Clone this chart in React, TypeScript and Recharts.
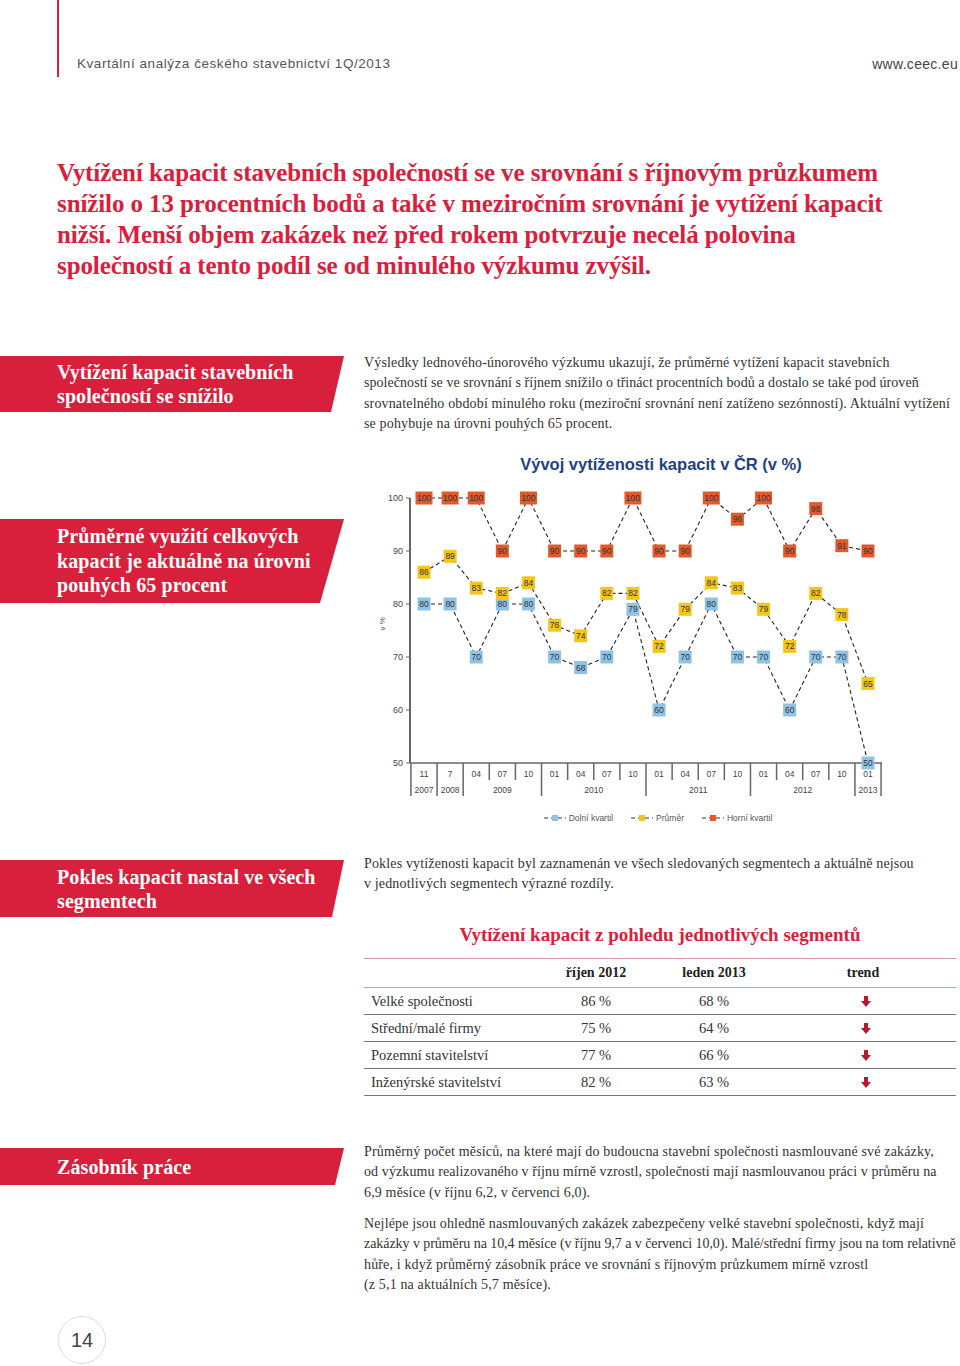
import React from "react";
import { LineChart, Line, XAxis, YAxis, Legend } from "recharts";

const months = ["11", "7", "04", "07", "10", "01", "04", "07", "10", "01", "04", "07", "10", "01", "04", "07", "10", "01"];
const years = ["2007", "2008", "2009", "2009", "2009", "2010", "2010", "2010", "2010", "2011", "2011", "2011", "2011", "2012", "2012", "2012", "2012", "2013"];

const lowerQuartile = [80, 80, 70, 80, 80, 70, 68, 70, 79, 60, 70, 80, 70, 70, 60, 70, 70, 50];
const average = [86, 89, 83, 82, 84, 76, 74, 82, 82, 72, 79, 84, 83, 79, 72, 82, 78, 65];
const upperQuartile = [100, 100, 100, 90, 100, 90, 90, 90, 100, 90, 90, 100, 96, 100, 90, 98, 91, 90];

const yTicks = [50, 60, 70, 80, 90, 100];

const series = [
  { key: "low", name: "Dolní kvartil", color: "#8ec3e6" },
  { key: "avg", name: "Průměr", color: "#f5c51c" },
  { key: "high", name: "Horní kvartil", color: "#e35a2a" },
];

const data = months.map((m, i) => ({
  id: String(i),
  low: lowerQuartile[i],
  avg: average[i],
  high: upperQuartile[i],
}));

const segmentNames = ["Velké společnosti", "Střední/malé firmy", "Pozemní stavitelství", "Inženýrské stavitelství"];
const october2012 = [86, 75, 77, 82];
const january2013 = [68, 64, 66, 63];

const RED = "#d8203d";
const SERIF = "'Liberation Serif', 'DejaVu Serif', serif";
const SANS = "'Liberation Sans', Arial, sans-serif";

// chart geometry
const CW = 560;
const CH = 410;
const M = { top: 58, right: 18, bottom: 12, left: 30 };
const YW = 40;
const PAD = 14;
const STEP = (CW - M.left - M.right - YW - 2 * PAD) / (months.length - 1);

const MonthTick = (props: any) => {
  const { x, y, payload } = props;
  const i = Number(payload.value);
  const last = i === months.length - 1;
  const newYear = last || years[i + 1] !== years[i];
  const firstOfYear = i === 0 || years[i - 1] !== years[i];
  const n = years.filter((yy) => yy === years[i]).length;
  return (
    <g>
      <text x={x} y={y + 14} textAnchor="middle" fontSize={8.5} fill="#444" fontFamily={SANS}>
        {months[i]}
      </text>
      {firstOfYear && (
        <text x={x + ((n - 1) * STEP) / 2} y={y + 30} textAnchor="middle" fontSize={8.5} fill="#444" fontFamily={SANS}>
          {years[i]}
        </text>
      )}
      {i === 0 && <line x1={x - STEP / 2} x2={x - STEP / 2} y1={y} y2={y + 33} stroke="#666" strokeWidth={1.5} />}
      <line x1={x + STEP / 2} x2={x + STEP / 2} y1={y} y2={y + (newYear ? 33 : 17)} stroke="#666" strokeWidth={1.5} />
    </g>
  );
};

const makeBox = (key: string, color: string) => (props: any) => {
  const { cx, cy, payload, index } = props;
  if (cx == null || cy == null) return <g key={`${key}-${index}`} />;
  const v = String(payload[key]);
  const w = v.length > 2 ? 17 : 13;
  return (
    <g key={`${key}-${index}`}>
      <rect x={cx - w / 2} y={cy - 6.5} width={w} height={13} fill={color} />
      <text x={cx} y={cy + 3} textAnchor="middle" fontSize={8.5} fill="#333" fontFamily={SANS}>
        {v}
      </text>
    </g>
  );
};

const LegendContent = () => (
  <div style={{ display: "flex", justifyContent: "center", gap: 18, fontFamily: SANS, fontSize: 8.5, color: "#555", paddingLeft: 64, paddingTop: 10 }}>
    {series.map((s) => (
      <div key={s.key} style={{ display: "flex", alignItems: "center", gap: 3 }}>
        <svg width={22} height={8}>
          <line x1={0} x2={22} y1={4} y2={4} stroke="#333" strokeWidth={1} strokeDasharray="4 3" />
          <rect x={8} y={1} width={6} height={6} fill={s.color} />
        </svg>
        <span>{s.name}</span>
      </div>
    ))}
  </div>
);

// a line is either a string or [string, letterSpacing]
const Lines = ({ lines, top, left, lh, style }: any) => (
  <div style={{ position: "absolute", top, left, lineHeight: `${lh}px`, whiteSpace: "nowrap", ...style }}>
    {lines.map((l: any, i: number) =>
      Array.isArray(l) ? (
        <div key={i} style={{ letterSpacing: l[1] }}>
          {l[0]}
        </div>
      ) : (
        <div key={i}>{l}</div>
      )
    )}
  </div>
);

const RedBox = ({ top, height, cut, lines, lh }: any) => (
  <div
    style={{
      position: "absolute",
      left: 0,
      top,
      width: 344,
      height,
      background: RED,
      clipPath: `polygon(0 0, 100% 0, calc(100% - ${cut}px) 100%, 0 100%)`,
    }}
  >
    <Lines
      lines={lines}
      top={(height - lines.length * lh) / 2}
      left={57}
      lh={lh}
      style={{ color: "#fff", fontFamily: SERIF, fontWeight: 700, fontSize: 20, letterSpacing: 0.1 }}
    />
  </div>
);

const Arrow = () => (
  <svg width={10} height={11} viewBox="0 0 10 11">
    <polygon points="3,0 7,0 7,5 10,5 5,11 0,5 3,5" fill="#b5192f" />
  </svg>
);

const bodyStyle = { fontFamily: SERIF, fontSize: 14, color: "#333", letterSpacing: 0.15 };

export default function App() {
  return (
    <div style={{ position: "absolute", left: 0, top: 0, width: 960, height: 1366, background: "#fff", overflow: "hidden" }}>
      <div style={{ position: "absolute", left: 57, top: 0, width: 1.5, height: 77, background: RED }} />
      <div style={{ position: "absolute", left: 77, top: 56, fontFamily: SANS, fontSize: 13.5, color: "#555", letterSpacing: 0.55 }}>
        Kvartální analýza českého stavebnictví 1Q/2013
      </div>
      <div style={{ position: "absolute", right: 2, top: 56, fontFamily: SANS, fontSize: 14, color: "#444", letterSpacing: 0.3 }}>www.ceec.eu</div>

      <Lines
        lines={[
          "Vytížení kapacit stavebních společností se ve srovnání s říjnovým průzkumem",
          "snížilo o 13 procentních bodů a také v meziročním srovnání je vytížení kapacit",
          "nižší. Menší objem zakázek než před rokem potvrzuje necelá polovina",
          "společností a tento podíl se od minulého výzkumu zvýšil.",
        ]}
        top={157}
        left={57}
        lh={31}
        style={{ fontFamily: SERIF, fontWeight: 700, fontSize: 25, color: RED, letterSpacing: -0.1 }}
      />

      <RedBox top={356} height={56} cut={13} lh={24} lines={["Vytížení kapacit stavebních", "společností se snížilo"]} />
      <Lines
        lines={[
          "Výsledky lednového-únorového výzkumu ukazují, že průměrné vytížení kapacit stavebních",
          ["společností se ve srovnání s říjnem snížilo o třináct procentních bodů a dostalo se také pod úroveň", 0.05],
          "srovnatelného období minulého roku (meziroční srovnání není zatíženo sezónností). Aktuální vytížení",
          "se pohybuje na úrovni pouhých 65 procent.",
        ]}
        top={353}
        left={364}
        lh={20.4}
        style={bodyStyle}
      />

      <div style={{ position: "absolute", left: 420, width: 482, top: 455, textAlign: "center", fontFamily: SANS, fontWeight: 700, fontSize: 16.5, color: "#1f3f86" }}>
        Vývoj vytíženosti kapacit v ČR (v %)
      </div>

      <RedBox
        top={519}
        height={84}
        cut={24}
        lh={24.5}
        lines={["Průměrné využití celkových", "kapacit je aktuálně na úrovni", "pouhých 65 procent"]}
      />

      <div style={{ position: "absolute", left: 340, top: 440 }}>
        <LineChart width={CW} height={CH} data={data} margin={M}>
          <XAxis
            dataKey="id"
            padding={{ left: PAD, right: PAD }}
            axisLine={{ stroke: "#666", strokeWidth: 1.5 }}
            tickLine={false}
            tickSize={0}
            tickMargin={0}
            interval={0}
            height={40}
            tick={<MonthTick />}
          />
          <YAxis
            domain={[50, 100]}
            ticks={yTicks}
            width={YW}
            axisLine={{ stroke: "#666", strokeWidth: 2 }}
            tickLine={{ stroke: "#666" }}
            tickSize={4}
            tickMargin={3}
            tick={{ fontSize: 9, fill: "#444", fontFamily: SANS }}
            label={{ value: "v %", angle: -90, position: "insideLeft", offset: 12, fontSize: 8, fill: "#555", fontFamily: SANS }}
          />
          {series.map((s) => (
            <Line
              key={`l-${s.key}`}
              dataKey={s.key}
              name={s.name}
              stroke="#222"
              strokeWidth={1.1}
              strokeDasharray="4 3"
              dot={false}
              activeDot={false}
              isAnimationActive={false}
            />
          ))}
          {series.map((s) => (
            <Line
              key={`d-${s.key}`}
              dataKey={s.key}
              stroke="none"
              legendType="none"
              dot={makeBox(s.key, s.color)}
              activeDot={false}
              isAnimationActive={false}
            />
          ))}
          <Legend verticalAlign="bottom" height={35} content={<LegendContent />} />
        </LineChart>
      </div>

      <RedBox top={860} height={57} cut={12} lh={24} lines={["Pokles kapacit nastal ve všech", "segmentech"]} />
      <Lines
        lines={[
          "Pokles vytíženosti kapacit byl zaznamenán ve všech sledovaných segmentech a aktuálně nejsou",
          "v jednotlivých segmentech výrazné rozdíly.",
        ]}
        top={854}
        left={364}
        lh={20.4}
        style={bodyStyle}
      />

      <div style={{ position: "absolute", left: 364, width: 592, top: 924, textAlign: "center", fontFamily: SERIF, fontWeight: 700, fontSize: 19, color: RED }}>
        Vytížení kapacit z pohledu jednotlivých segmentů
      </div>

      <div style={{ position: "absolute", left: 364, top: 958, width: 592 }}>
        <div style={{ height: 28, borderTop: "1.5px solid #c99aa4", borderBottom: "1.5px solid #c99aa4", display: "flex", alignItems: "center", fontFamily: SERIF, fontWeight: 700, fontSize: 14, color: "#222" }}>
          <div style={{ width: 172 }} />
          <div style={{ width: 120, textAlign: "center" }}>říjen 2012</div>
          <div style={{ width: 116, textAlign: "center" }}>leden 2013</div>
          <div style={{ width: 170, textAlign: "center", paddingLeft: 6 }}>trend</div>
        </div>
        {segmentNames.map((name, i) => (
          <div key={name} style={{ height: 26, borderBottom: "1.5px solid #777", display: "flex", alignItems: "center", fontFamily: SERIF, fontSize: 14.5, color: "#333" }}>
            <div style={{ width: 172, paddingLeft: 7 }}>{name}</div>
            <div style={{ width: 120, textAlign: "center", paddingRight: 14, boxSizing: "border-box" }}>{october2012[i]} %</div>
            <div style={{ width: 116, textAlign: "center", paddingRight: 14, boxSizing: "border-box" }}>{january2013[i]} %</div>
            <div style={{ width: 170, paddingLeft: 4, boxSizing: "border-box", display: "flex", justifyContent: "center" }}>
              <Arrow />
            </div>
          </div>
        ))}
      </div>

      <RedBox top={1148} height={37} cut={9} lh={24} lines={["Zásobník práce"]} />
      <Lines
        lines={[
          "Průměrný počet měsíců, na které mají do budoucna stavební společnosti nasmlouvané své zakázky,",
          ["od výzkumu realizovaného v říjnu mírně vzrostl, společnosti mají nasmlouvanou práci v průměru na", 0.1],
          "6,9 měsíce (v říjnu 6,2, v červenci 6,0).",
        ]}
        top={1142}
        left={364}
        lh={20.4}
        style={bodyStyle}
      />
      <Lines
        lines={[
          "Nejlépe jsou ohledně nasmlouvaných zakázek zabezpečeny velké stavební společnosti, když mají",
          ["zakázky v průměru na 10,4 měsíce (v říjnu 9,7 a v červenci 10,0). Malé/střední firmy jsou na tom relativně", -0.06],
          "hůře, i když průměrný zásobník práce ve srovnání s říjnovým průzkumem mírně vzrostl",
          "(z 5,1 na aktuálních 5,7 měsíce).",
        ]}
        top={1214}
        left={364}
        lh={20.4}
        style={bodyStyle}
      />

      <div style={{ position: "absolute", left: 58, top: 1316, width: 46, height: 46, borderRadius: "50%", border: "1.5px solid #ddd", display: "flex", alignItems: "center", justifyContent: "center", fontFamily: SANS, fontSize: 20, color: "#444" }}>
        14
      </div>
    </div>
  );
}
